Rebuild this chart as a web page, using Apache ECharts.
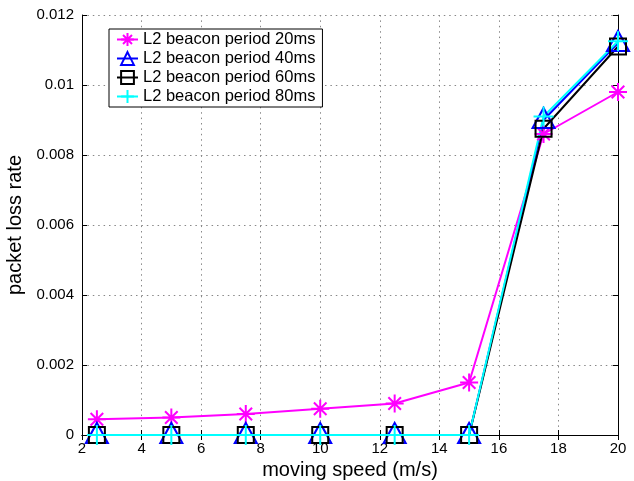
<!DOCTYPE html>
<html>
<head>
<meta charset="utf-8">
<script src="https://cdn.jsdelivr.net/npm/echarts@6/dist/echarts.min.js"></script>
<style>
  html, body { margin: 0; padding: 0; background: #fff; }
  #chart { width: 634px; height: 481px; }
</style>
</head>
<body>
<div id="chart"></div>
<script>
// Moving speed (m/s) sampled for every beacon period
const speeds = [2.5, 5, 7.5, 10, 12.5, 15, 17.5, 20];

// Packet loss rate per L2 beacon period
const loss20ms = [0.00045, 0.0005, 0.0006, 0.00075, 0.0009, 0.0015, 0.0086, 0.0098];
const loss40ms = [0, 0, 0, 0, 0, 0, 0.0090, 0.0112];
const loss60ms = [0, 0, 0, 0, 0, 0, 0.00875, 0.0111];
const loss80ms = [0, 0, 0, 0, 0, 0, 0.0091, 0.01125];

const seriesNames = [
  'L2 beacon period 20ms',
  'L2 beacon period 40ms',
  'L2 beacon period 60ms',
  'L2 beacon period 80ms'
];

const xTicks = [2, 4, 6, 8, 10, 12, 14, 16, 18, 20];
const yTicks = [0, 0.002, 0.004, 0.006, 0.008, 0.01, 0.012];

const FONT = 'Liberation Sans, Arial, Helvetica, sans-serif';

// Stroke-only marker shapes
const STAR = 'path://M0,-10L0,10M-10,0L10,0M-7,-7L7,7M-7,7L7,-7';
const PLUS = 'path://M0,-10L0,10M-10,0L10,0';
const TRI = 'path://M0,-10L8.66,5L-8.66,5Z';
const SQR = 'path://M-10,-10L10,-10L10,10L-10,10Z';

function pairs(vals) {
  return speeds.map((s, i) => [s, vals[i]]);
}

function lineSeries(name, vals, color, symbol, size, offset) {
  return {
    name: name,
    type: 'line',
    data: pairs(vals),
    symbol: symbol,
    symbolSize: size,
    symbolOffset: offset || [0, 0],
    showAllSymbol: true,
    color: color,
    lineStyle: { color: color, width: 2 },
    itemStyle: { color: 'rgba(0,0,0,0)', borderColor: color, borderWidth: 2 },
    emphasis: { disabled: true },
    animation: false
  };
}

const gridLine = { show: true, lineStyle: { color: '#888', width: 1, type: [1.5, 3.9] } };
const axisLine = { show: true, lineStyle: { color: '#000', width: 1 } };
const tickIn = { show: true, inside: true, length: 5, lineStyle: { color: '#000' } };
const labelStyle = { color: '#000', fontSize: 15, fontFamily: FONT };

const chart = echarts.init(document.getElementById('chart'));
chart.setOption({
  backgroundColor: '#fff',
  animation: false,
  grid: { left: 82, right: 16, top: 15, bottom: 46, containLabel: false, outerBoundsMode: 'none' },
  legend: {
    orient: 'vertical',
    left: 109,
    top: 29,
    data: seriesNames,
    backgroundColor: '#fff',
    borderColor: '#000',
    borderWidth: 1,
    padding: [2, 7, 2, 7],
    itemGap: 2,
    itemWidth: 21,
    itemHeight: 16,
    textStyle: { color: '#000', fontSize: 16.5, lineHeight: 17, fontFamily: FONT }
  },
  xAxis: [
    {
      type: 'value', min: 2, max: 20, interval: 2,
      name: 'moving speed (m/s)', nameLocation: 'middle', nameGap: 25,
      nameTextStyle: { color: '#000', fontSize: 20, fontFamily: FONT },
      axisLine: axisLine, axisTick: tickIn,
      axisLabel: Object.assign({ margin: 6, customValues: xTicks }, labelStyle),
      splitLine: gridLine
    },
    {
      type: 'value', min: 2, max: 20, interval: 2, position: 'top',
      axisLine: axisLine, axisTick: tickIn, axisLabel: { show: false }, splitLine: { show: false }
    }
  ],
  yAxis: [
    {
      type: 'value', min: 0, max: 0.012, interval: 0.002,
      name: 'packet loss rate', nameLocation: 'middle', nameGap: 48, nameRotate: 90,
      nameTextStyle: { color: '#000', fontSize: 20, fontFamily: FONT },
      axisLine: axisLine, axisTick: tickIn,
      axisLabel: Object.assign({ margin: 8, formatter: v => String(+v.toFixed(4)) }, labelStyle),
      splitLine: gridLine
    },
    {
      type: 'value', min: 0, max: 0.012, interval: 0.002, position: 'right',
      axisLine: axisLine, axisTick: tickIn, axisLabel: { show: false }, splitLine: { show: false }
    }
  ],
  series: [
    lineSeries(seriesNames[0], loss20ms, '#ff00ff', STAR, 18),
    lineSeries(seriesNames[1], loss40ms, '#0000ff', TRI, [22, 20], [0, -2]),
    lineSeries(seriesNames[2], loss60ms, '#000000', SQR, 16),
    lineSeries(seriesNames[3], loss80ms, '#00ffff', PLUS, 20)
  ]
});
</script>
</body>
</html>
